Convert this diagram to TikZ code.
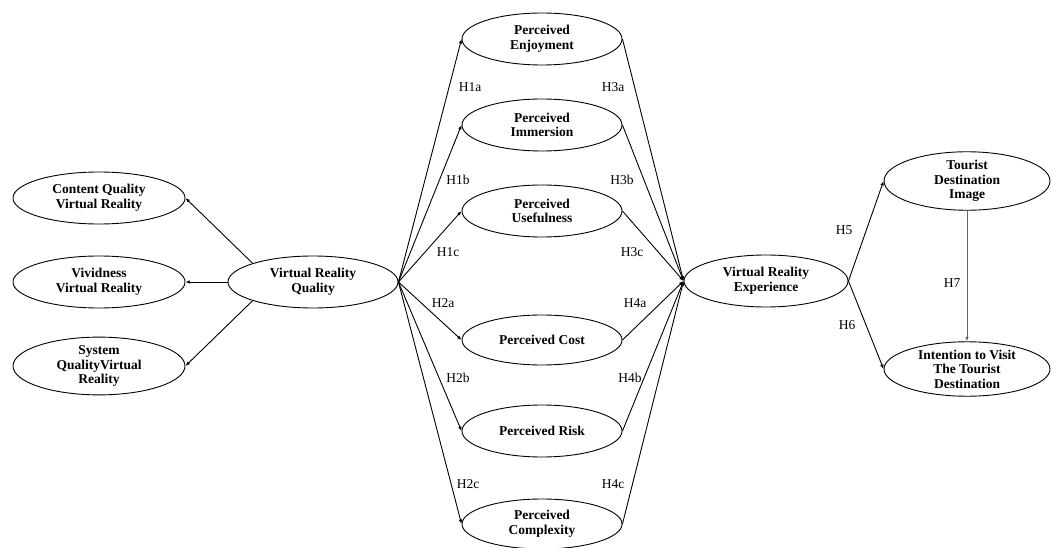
\documentclass[tikz,border=0pt]{standalone}
\usepackage{fontspec}
\setmainfont{Liberation Serif}
\usetikzlibrary{shapes.geometric,arrows.meta}
\begin{document}
\begin{tikzpicture}[x=1pt,y=-1pt,
  ell/.style={draw,ellipse,line width=0.9pt,inner sep=0pt,align=center,
    font=\fontsize{13.5}{14.5}\selectfont\bfseries,minimum width=#1},
  ell/.default=166pt,
  conn/.style={line width=0.9pt,-{Latex[length=4.5pt,width=3.5pt]}},
  hyp/.style={font=\fontsize{13.5}{15}\selectfont,inner sep=0pt}]
\useasboundingbox (0,0) rectangle (1052,548);
% left block
\node[ell=172pt,minimum height=52pt] (cq) at (99,198) {Content Quality\\Virtual Reality};
\node[ell=172pt,minimum height=52pt] (viv) at (99,282) {Vividness\\Virtual Reality};
\node[ell=172pt,minimum height=53pt] (sys) at (99,366) {System\\QualityVirtual\\Reality};
\node[ell=170pt,minimum height=52pt] (vrq) at (313,282) {Virtual Reality\\Quality};
% middle column
\node[ell=160pt,minimum height=52pt] (pe) at (542,39) {Perceived\\Enjoyment};
\node[ell=160pt,minimum height=52pt] (pim) at (542,125) {Perceived\\Immersion};
\node[ell=160pt,minimum height=52pt] (pu) at (542,211) {Perceived\\Usefulness};
\node[ell=160pt,minimum height=50pt] (pc) at (542,340) {Perceived Cost};
\node[ell=160pt,minimum height=52pt] (pr) at (542,431) {Perceived Risk};
\node[ell=160pt,minimum height=50pt] (pcx) at (542,524) {Perceived\\Complexity};
% right block
\node[ell=164pt,minimum height=52pt] (vre) at (766,281) {Virtual Reality\\Experience};
\node[ell=166pt,minimum height=54pt] (tdi) at (967,181) {Tourist\\Destination\\Image};
\node[ell=166pt,minimum height=52pt] (itv) at (967,369) {Intention to Visit\\The Tourist\\Destination};
% connectors
\draw[conn] (vrq.north west) -- (cq.east);
\draw[conn] (vrq.west) -- (viv.east);
\draw[conn] (vrq.south west) -- (sys.east);
\foreach \n in {pe,pim,pu,pc,pr,pcx}{
  \draw[conn] (vrq.east) -- (\n.west);
  \draw[conn] (\n.east) -- (vre.west);
}
\draw[conn] (vre.east) -- (tdi.west);
\draw[conn] (vre.east) -- (itv.west);
\draw[conn,draw=black!60] (tdi.south) -- (itv.north);
% labels
\node[hyp] (h1a) at (470,87) {H1a};
\node[hyp] (h3a) at (613,87) {H3a};
\node[hyp] (h1b) at (458,180) {H1b};
\node[hyp] (h3b) at (622,180) {H3b};
\node[hyp] (h1c) at (448,252) {H1c};
\node[hyp] (h3c) at (632,252) {H3c};
\node[hyp] (h2a) at (443,303) {H2a};
\node[hyp] (h4a) at (635,303) {H4a};
\node[hyp] (h2b) at (458,378) {H2b};
\node[hyp] (h4b) at (630,378) {H4b};
\node[hyp] (h2c) at (468,484) {H2c};
\node[hyp] (h4c) at (613,484) {H4c};
\node[hyp] (h5) at (844,230) {H5};
\node[hyp] (h6) at (847,325) {H6};
\node[hyp] (h7) at (952,283) {H7};
\end{tikzpicture}
\end{document}
